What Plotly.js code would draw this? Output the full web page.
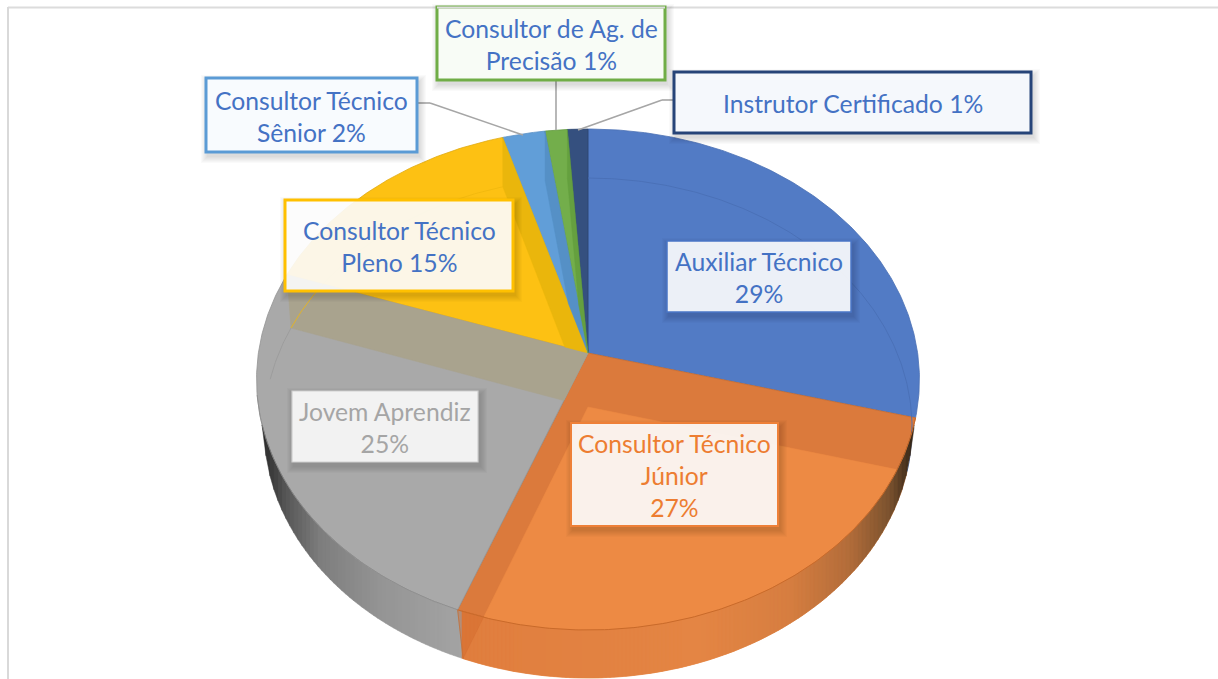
<!DOCTYPE html>
<html>
<head>
<meta charset="utf-8">
<script src="https://cdn.plot.ly/plotly-3.0.1.min.js"></script>
<style>html,body{margin:0;padding:0;background:#fff}#chart{width:1218px;height:679px}</style>
</head>
<body>
<div id="chart"></div>
<script>
// ---- data (clockwise from 12 o'clock) ----
const categories = ["Auxiliar Técnico","Consultor Técnico Júnior","Jovem Aprendiz","Consultor Técnico Pleno","Consultor Técnico Sênior","Consultor de Ag. de Precisão","Instrutor Certificado"];
const shares = [29.1, 26.7, 24.5, 15.1, 2.3, 1.2, 1.1];
const labelTexts = ["Auxiliar Técnico<br>29%","Consultor Técnico<br>Júnior<br>27%","Jovem Aprendiz<br>25%","Consultor Técnico<br>Pleno 15%","Consultor Técnico<br>Sênior 2%","Consultor de Ag. de<br>Precisão 1%","Instrutor Certificado 1%"];
// ---- styles ----
const topColors  = ["#527bc5","#db7a3c","#a9a9a9","#fdc113","#619ed8","#73ae4b","#35507f"];
const edgeColors = ["#4a70b4","#c96d30","#939393","#e0a912","#5a92c8","#659a42","#2c4570"];
const bandColors = [null,null,"#a9a38e","#eab60c","#5590c6","#65a03f",null];
const textColors = ["#4472c4","#ed7d31","#a5a5a5","#4472c4","#4472c4","#4472c4","#4472c4"];
const boxes = [[667,241,851,312],[571,423,778,526],[292,391,478,462],[285,200,513,291],[206,78,417,152],[437,7,665,80],[674,72,1031,133]];
const boxFill = ["rgba(255,255,255,.9)","rgba(255,255,255,.9)","rgba(255,255,255,.88)","rgba(255,255,255,.9)","#f8fbfe","#f8fcf6","#f5f8fc"];
const boxLine = ["#4a76c6","#ee8038","#cfcfcf","#ffc000","#5b9bd5","#70ad47","#264478"];
const boxLineW = [1.5,2,1.2,3,3,3,3];
const leaders = [[[418,103],[430,103],[523,135]],[[556,80],[556,130]],[[673,100],[662,100],[578,130]]];
const wallStops = [[262,[40,40,40]],[285,[85,85,85]],[320,[125,125,125]],[380,[148,148,148]],[460,[163,163,163]],
                   [461,[224,126,62]],[700,[228,133,68]],[790,[214,126,64]],[850,[178,108,58]],[890,[122,82,46]],[914,[50,36,22]]];

// ---- projection of the disc ----
const project = (cx,cy,k,A,B) => t => { const u=Math.sin(t), v=-Math.cos(t), w=1-k*v; return [cx+A*u/w, cy+B*v/w]; };
const topMap = project(588,353,0.1058,329.6,247.7);
const lowMap = project(588,407,0.084,322.9,248.2);
const TOP_APEX=[588,353], LOW_APEX=[588,407];
const total = shares.reduce((a,b)=>a+b,0);
const cum=[0]; shares.forEach(s=>cum.push(cum[cum.length-1]+s));
const ang = c => c/total*2*Math.PI;
const arc = (map,a,b) => { const n=Math.max(2,Math.ceil((b-a)/0.01)), p=[]; for(let i=0;i<=n;i++) p.push(map(a+(b-a)*i/n)); return p; };
const cross = (p1,p2,p3,p4) => { const d=(p1[0]-p2[0])*(p3[1]-p4[1])-(p1[1]-p2[1])*(p3[0]-p4[0]);
  const a=p1[0]*p2[1]-p1[1]*p2[0], b=p3[0]*p4[1]-p3[1]*p4[0];
  return [(a*(p3[0]-p4[0])-(p1[0]-p2[0])*b)/d,(a*(p3[1]-p4[1])-(p1[1]-p2[1])*b)/d]; };
const poly = (pts,fill,name,line,lw) => ({type:'scatter',mode:'lines',x:pts.map(p=>p[0]).concat(pts[0][0]),y:pts.map(p=>p[1]).concat(pts[0][1]),
  fill:'toself',fillcolor:fill,line:{color:line||fill,width:lw===undefined?0.5:lw},hoverinfo:name?'name':'skip',name:name||'',showlegend:false});
const stroke = (pts,color,w) => ({type:'scatter',mode:'lines',x:pts.map(p=>p[0]),y:pts.map(p=>p[1]),line:{color:color,width:w},hoverinfo:'skip',showlegend:false});

const traces=[];
// top face
categories.forEach((c,i)=>traces.push(poly([TOP_APEX].concat(arc(topMap,ang(cum[i]),ang(cum[i+1]))),topColors[i],c+' '+shares[i]+'%',edgeColors[i],0.8)));
// see-through: lower orange slice
traces.push(poly([LOW_APEX].concat(arc(lowMap,ang(cum[1]),ang(cum[2]))),'#ed8a44'));
// see-through: cut faces of the following slices
bandColors.forEach((color,i)=>{
  if(!color) return;
  const t=ang(cum[i+1]), prev=ang(cum[i]);
  const I=cross(LOW_APEX,lowMap(t),TOP_APEX,topMap(prev));
  traces.push(poly([TOP_APEX,I,lowMap(t),topMap(t)],color));
});
// faint lower rim seen through the top
traces.push(stroke(arc(lowMap,0,ang(cum[1])),'#4a6fb5',0.9));
traces.push(stroke(arc(lowMap,ang(cum[3]-3.5),ang(cum[3])),'#999999',0.8));
traces.push(stroke(arc(lowMap,ang(cum[3]),ang(cum[4])),'#f0b70e',0.8));
// wall, as vertical strips between the two rims
const shade = x => { for(let i=1;i<wallStops.length;i++){ if(x<=wallStops[i][0]){ const a=wallStops[i-1],b=wallStops[i],f=(x-a[0])/(b[0]-a[0]);
  return 'rgb('+a[1].map((v,j)=>Math.round(v+(b[1][j]-v)*f)).join(',')+')'; } } return 'rgb(50,36,22)'; };
const rimTop = x => 379.5+250.5*Math.sqrt(Math.max(0,1-Math.pow((x-588)/331.5,2)));
const rimLow = x => 428+250*Math.sqrt(Math.max(0,1-Math.pow((x-588)/324,2)));
for(let x=262;x<914;x+=4){
  const x2=x+4; if(rimLow(x)<=rimTop(x)&&rimLow(x2)<=rimTop(x2)) continue;
  const a=Math.max(rimLow(x),rimTop(x)), b=Math.max(rimLow(x2),rimTop(x2));
  traces.push(poly([[x,rimTop(x)],[x2,rimTop(x2)],[x2,b],[x,a]],shade((x+x2)/2)));
}
// dark triangle on the wall where the cut face shows through
{ const t=ang(cum[2]); const P=topMap(t), Q=lowMap(t);
  const R=cross(LOW_APEX,Q,topMap(t-0.16),topMap(t-0.02));
  traces.push(poly([P,Q,R],'rgba(205,100,40,.35)')); }
// rim lines
traces.push(stroke(arc(topMap,ang(cum[1]),ang(cum[2])),'#c96a2a',1));
traces.push(stroke(arc(topMap,ang(cum[2]),ang(cum[3])-0.5),'#8c8c8c',0.8));
traces.push(stroke([topMap(ang(cum[2])),lowMap(ang(cum[2]))],'#c4713a',0.8));

// shapes: frame, leaders, boxes
const shapes=[
  {type:'line',x0:8,x1:1218,y0:7.5,y1:7.5,line:{color:'#dcdcdc',width:2}},
  {type:'line',x0:8,x1:8,y0:7,y1:679,line:{color:'#d9d9d9',width:2}}
];
leaders.forEach(l=>{ for(let i=0;i<l.length-1;i++) shapes.push({type:'line',x0:l[i][0],y0:l[i][1],x1:l[i+1][0],y1:l[i+1][1],line:{color:'#a6a6a6',width:1.6}}); });
boxes.forEach((b,i)=>{
  for(let k=7;k>=1;k--) shapes.push({type:'rect',x0:b[0]-k+2,y0:b[1]-k+4,x1:b[2]+k+2,y1:b[3]+k+4,fillcolor:'rgba(0,0,0,.018)',line:{width:0}});
  shapes.push({type:'rect',x0:b[0],y0:b[1],x1:b[2],y1:b[3],fillcolor:boxFill[i],line:{color:boxLine[i],width:boxLineW[i]}});
});
shapes.push({type:'line',x0:437,x1:665,y0:7.5,y1:7.5,line:{color:'#dcdcdc',width:2}});

const annotations=labelTexts.map((t,i)=>({x:(boxes[i][0]+boxes[i][2])/2,y:(boxes[i][1]+boxes[i][3])/2+1,xref:'x',yref:'y',text:t,showarrow:false,
  align:'center',xanchor:'center',yanchor:'middle',font:{family:'Lato, sans-serif',size:24.7,color:textColors[i]}}));

Plotly.newPlot('chart',traces,{
  width:1218,height:679,margin:{l:0,r:0,t:0,b:0},paper_bgcolor:'#fff',plot_bgcolor:'#fff',showlegend:false,
  xaxis:{range:[0,1218],visible:false,fixedrange:true},
  yaxis:{range:[679,0],visible:false,fixedrange:true},
  shapes:shapes,annotations:annotations
},{displayModeBar:false,staticPlot:true});
</script>
</body>
</html>
